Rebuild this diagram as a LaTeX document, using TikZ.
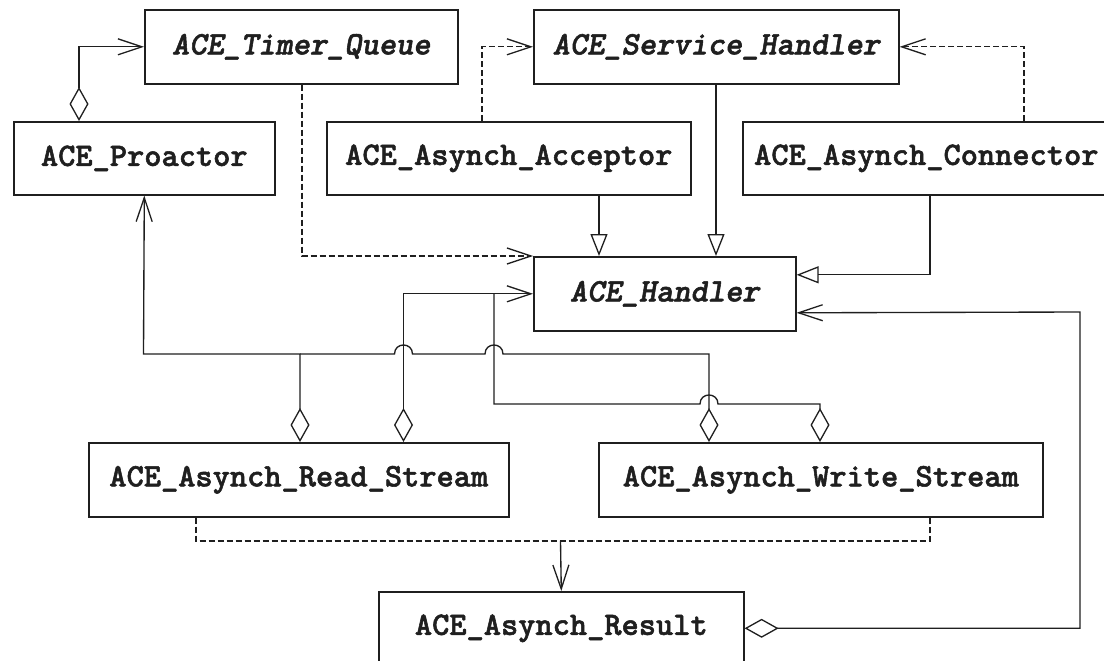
\documentclass[tikz,border=0pt]{standalone}
\usepackage{fontspec}
\newfontfamily\cour{lmmonolt10-bold.otf}[ItalicFont=lmmonolt10-boldoblique.otf,FakeBold=1.6]
\usetikzlibrary{arrows.meta}
\definecolor{ink}{gray}{0.12}
\tikzset{
  aggtip/.tip={Diamond[length=34pt,width=19pt,fill=white,line width=1.3pt]},
  opentip/.tip={Straight Barb[length=24pt,width=16pt,line width=1.3pt]},
  gentip/.tip={Triangle[length=22pt,width=17pt,fill=white,line width=1.3pt]},
  cls/.style={draw=ink,line width=1.6pt,anchor=north west,inner sep=0pt,
    text=ink,font=\cour\fontsize{32.8}{34}\selectfont},
  abscls/.style={cls,font=\cour\itshape\fontsize{32.8}{34}\selectfont},
  ln/.style={draw=ink,line width=1.35pt},
  dep/.style={ln,dash pattern=on 6pt off 3pt},
}
\begin{document}
\begin{tikzpicture}[x=1pt,y=-1pt]
\fill[white] (0,0) rectangle (1104,661);
\useasboundingbox (0,0) rectangle (1104,661);

% classes
\node[abscls,minimum width=313pt,minimum height=74pt] (timer) at (144,9) {ACE\_Timer\_Queue};
\node[abscls,minimum width=365pt,minimum height=74pt] (service) at (533,9) {ACE\_Service\_Handler};
\node[cls,minimum width=261pt,minimum height=73pt] (proactor) at (13,121) {ACE\_Proactor};
\node[cls,minimum width=364pt,minimum height=73pt] (acceptor) at (326,121) {ACE\_Asynch\_Acceptor};
\node[cls,minimum width=367pt,minimum height=73pt] (connector) at (742,121) {ACE\_Asynch\_Connector};
\node[abscls,minimum width=262pt,minimum height=74pt] (handler) at (533,256) {ACE\_Handler};
\node[cls,minimum width=420pt,minimum height=74pt] (read) at (88,442) {ACE\_Asynch\_Read\_Stream};
\node[cls,minimum width=444pt,minimum height=74pt] (write) at (598,442) {ACE\_Asynch\_Write\_Stream};
\node[cls,minimum width=365pt,minimum height=73pt] (result) at (378,591) {ACE\_Asynch\_Result};

\coordinate (j1) at (143.5,354);
\coordinate (c8) at (1080,312);
\coordinate (m) at (560.5,541);

% top connectors
\draw[ln,aggtip-opentip] ([xshift=66pt]proactor.north west) |- (timer.west);
\draw[dep,-opentip] ([xshift=158pt]timer.south west) |- (handler.north west);
\draw[dep,-opentip] ([xshift=156pt]acceptor.north west) |- (service.west);
\draw[dep,-opentip] ([xshift=282pt]connector.north west) |- (service.east);

% generalisations
\draw[ln,-gentip] ([xshift=273pt]acceptor.south west) coordinate (a5) -- (a5 |- handler.north);
\draw[ln,-gentip] ([xshift=183pt]service.south west) coordinate (s6) -- (s6 |- handler.north);
\draw[ln,-gentip] ([xshift=188pt]connector.south west) |- ([yshift=19pt]handler.east);

% result to handler
\draw[ln,aggtip-opentip] (result.east) -| (c8) -- ([yshift=-19pt]handler.east);

% streams
\draw[ln,aggtip-opentip] ([xshift=212pt]read.north west) |- (j1) -- (proactor.south);
\draw[ln,aggtip-opentip] ([xshift=315.5pt]read.north west) |- (handler.west);
\draw[ln,aggtip-] ([xshift=111pt]write.north west) -- (709,354) -- (503,354)
   .. controls (503,342) and (485,342) .. (485,354) -- (412.5,354)
   .. controls (412.5,342) and (394.5,342) .. (394.5,354) -- (300,354);
\draw[ln,aggtip-] ([xshift=222pt]write.north west) -- (820,404) -- (718,404)
   .. controls (718,392) and (700,392) .. (700,404) -- (494,404) -- (494,293.5);

% results dependency
\draw[dep] ([xshift=108pt]read.south west) |- (m) -| ([xshift=332pt]write.south west);
\draw[ln,-opentip] (m) -- (result.north);
\end{tikzpicture}
\end{document}
